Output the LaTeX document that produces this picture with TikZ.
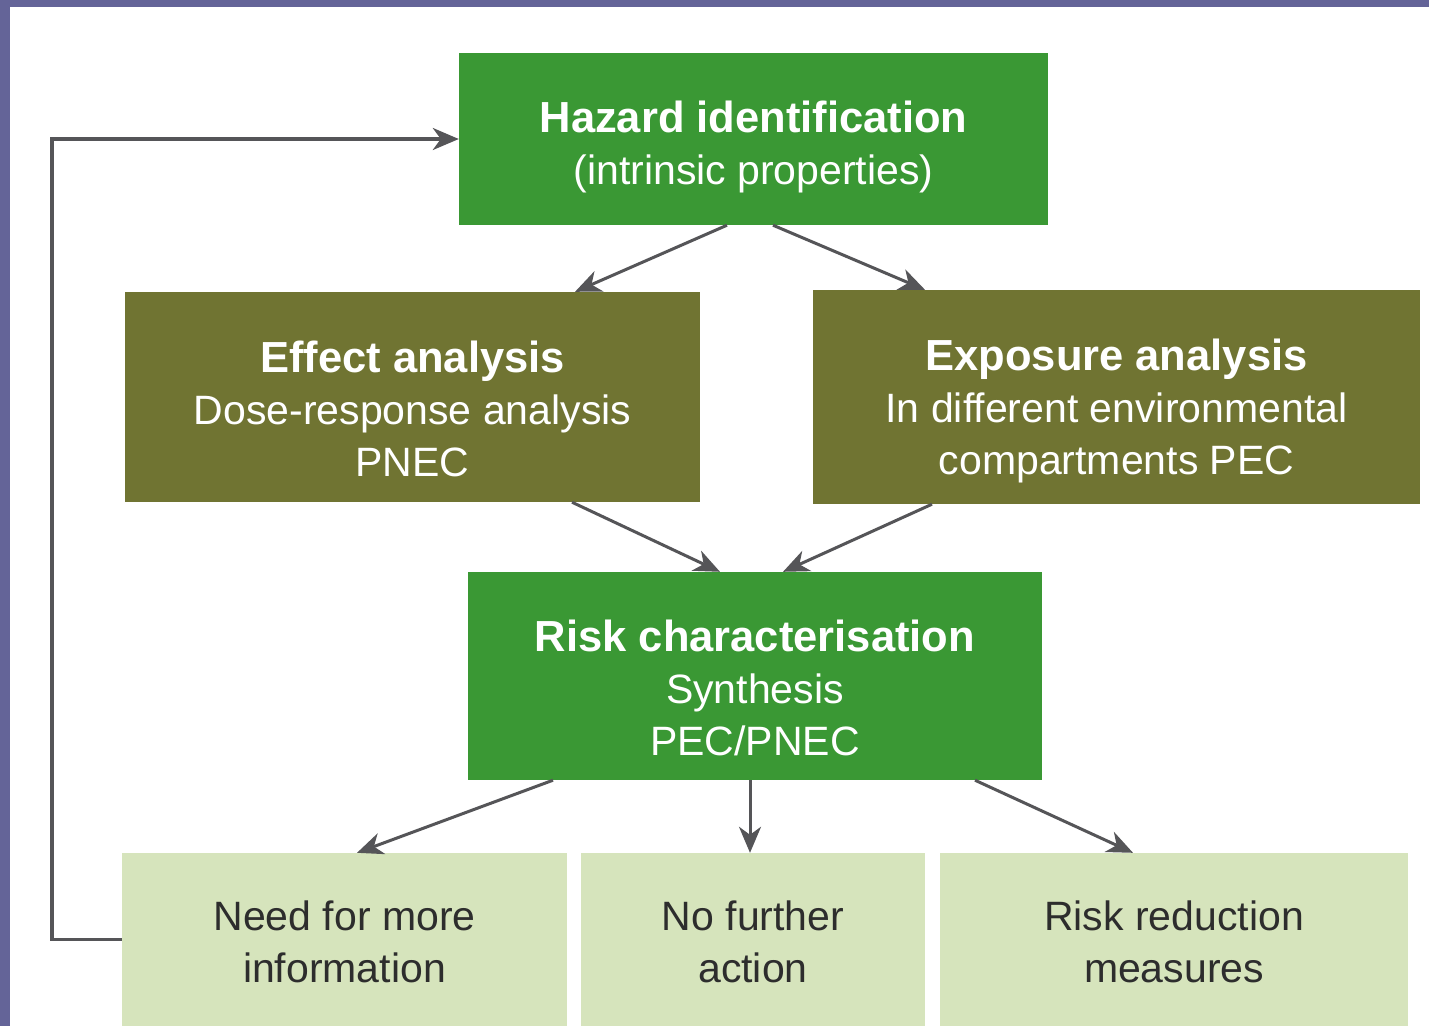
\documentclass[tikz,border=0pt]{standalone}
\usepackage{fontspec}
\setmainfont{Liberation Sans}
\usetikzlibrary{arrows.meta}
\definecolor{frame}{RGB}{100,100,152}
\definecolor{hgreen}{RGB}{58,152,52}
\definecolor{olive}{RGB}{112,116,50}
\definecolor{lgreen}{RGB}{214,228,188}
\definecolor{arrowgray}{RGB}{85,85,88}
\definecolor{txtdark}{RGB}{45,45,45}
\newcommand{\hd}[1]{{\fontsize{43.5}{52}\selectfont\bfseries #1}}
\tikzset{
  box/.style={rectangle, inner sep=0pt},
  greenbox/.style={box, fill=hgreen},
  olivebox/.style={box, fill=olive},
  lightbox/.style={box, fill=lgreen},
  label/.style={inner sep=0pt, align=center, text=white,
    font=\fontsize{41}{52}\selectfont},
  darklabel/.style={label, text=txtdark},
  arr/.style={draw=arrowgray, line width=3pt,
    -{Stealth[length=26pt,width=22pt,inset=8pt]}},
  fbline/.style={draw=arrowgray, line width=3.5pt,
    -{Stealth[length=26pt,width=22pt,inset=8pt]}}
}
\begin{document}
\begin{tikzpicture}[x=1pt,y=-1pt]
\useasboundingbox (0,0) rectangle (1429,1026);
\fill[white] (0,0) rectangle (1429,1026);
\fill[frame] (0,0) rectangle (10,1026);
\fill[frame] (0,0) rectangle (1429,7);

\node[greenbox, minimum width=589pt, minimum height=172pt] (haz) at (753.5,139) {};
\node[olivebox, minimum width=575pt, minimum height=210pt] (eff) at (412.5,397) {};
\node[olivebox, minimum width=607pt, minimum height=214pt] (exp) at (1116.5,397) {};
\node[greenbox, minimum width=574pt, minimum height=208pt] (risk) at (755,676) {};
\node[lightbox, minimum width=445pt, minimum height=173pt] (need) at (344.5,939.5) {};
\node[lightbox, minimum width=344pt, minimum height=173pt] (nfa) at (753,939.5) {};
\node[lightbox, minimum width=468pt, minimum height=173pt] (rrm) at (1174,939.5) {};

\node[label] (hazt) at ([yshift=-8pt]haz.center)
  {\hd{Hazard identification}\\(intrinsic properties)};
\node[label] (efft) at ([yshift=-12pt]eff.center)
  {\hd{Effect analysis}\\Dose-response analysis\\PNEC};
\node[label] (expt) at ([yshift=-14pt]exp.center)
  {\hd{Exposure analysis}\\In different environmental\\compartments PEC};
\node[label] (riskt) at ([yshift=-12pt]risk.center)
  {\hd{Risk characterisation}\\Synthesis\\PEC/PNEC};
\node[darklabel] (needt) at ([yshift=-2pt]need.center) {Need for more\\information};
\node[darklabel] (nfat) at ([yshift=-2pt]nfa.center) {No further\\action};
\node[darklabel] (rrmt) at ([yshift=-2pt]rrm.center) {Risk reduction\\measures};

\coordinate (fb) at (52,939.5);

\draw[arr] (haz.south -| 727,0) -- (eff.north -| 575,0);
\draw[arr] (haz.south -| 773,0) -- (exp.north -| 925,0);
\draw[arr] (eff.south -| 572,0) -- (risk.north -| 720,0);
\draw[arr] (exp.south -| 932,0) -- (risk.north -| 783,0);
\draw[arr] (risk.south -| 553,0) -- (need.north -| 357,0);
\draw[arr] (risk.south -| 750,0) -- (nfa.north -| 750,0);
\draw[arr] (risk.south -| 975,0) -- (rrm.north -| 1133,0);
\draw[fbline] (need.west) -- (fb) |- (haz.west);
\end{tikzpicture}
\end{document}
